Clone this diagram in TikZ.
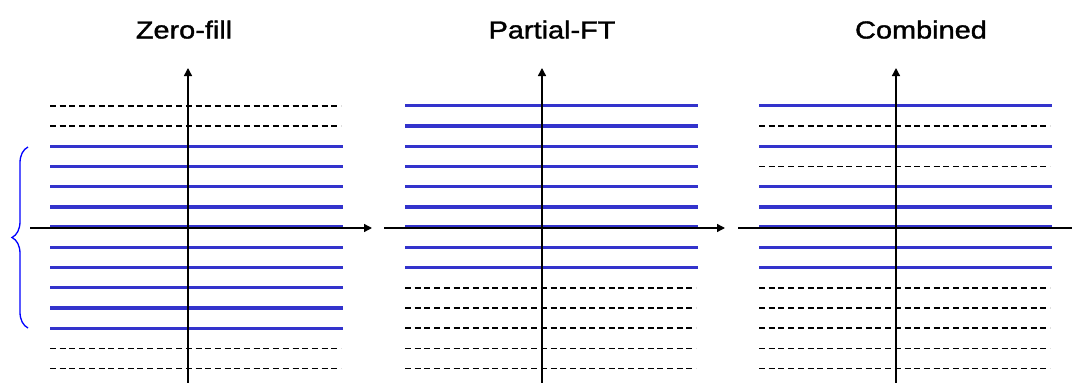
\documentclass[tikz,border=0pt]{standalone}
\usepackage{fontspec}
\usepackage{graphicx}
\setmainfont{Liberation Sans}
\newfontfamily\titlefont[FakeBold=1.3]{Liberation Sans}
\usetikzlibrary{arrows.meta,decorations.pathreplacing}

\definecolor{kline}{RGB}{51,51,204}
\definecolor{bracecol}{RGB}{0,0,255}

\tikzset{
  sampled/.style={kline, line width=3.3pt},
  skipped/.style={black, line width=1.6pt, dash pattern=on 6pt off 3.7pt},
  axisline/.style={black, line width=1.4pt},
  axisarrow/.style={axisline, -{Triangle[length=8pt,width=8pt]}},
  paneltitle/.style={anchor=base, inner sep=0pt, font=\titlefont\fontsize{24.7}{28}\selectfont},
}

% widened title text
\newcommand{\widetitle}[1]{\scalebox{1.17}[1]{#1}}
% k-space rows: left end, right end, acquired rows, skipped rows
\newcommand{\kspacerows}[4]{%
  \foreach \i in {#3}{\draw[sampled] (#1,{105.7+20.23*\i}) -- (#2,{105.7+20.23*\i});}
  \foreach \i in {#4}{\draw[skipped] (#1,{105.7+20.23*\i}) -- ({#2-2},{105.7+20.23*\i});}
}

\begin{document}
\begin{tikzpicture}[x=1pt,y=-1pt]
\fill[white] (0,0) rectangle (1072,383);
\useasboundingbox (0,0) rectangle (1072,383);

% titles
\node[paneltitle] (t1) at (184,38.5) {\widetitle{Zero-fill}};
\node[paneltitle] (t2) at (552,38.5) {\widetitle{Partial-FT}};
\node[paneltitle] (t3) at (921,38.5) {\widetitle{Combined}};

% rows of each panel
\kspacerows{50}{343}{2,...,11}{0,1,12,13}
\kspacerows{405}{698}{0,...,8}{9,...,13}
\kspacerows{759}{1052}{0,2,4,5,6,7,8}{1,3,9,10,11,12,13}

% axis end points
\coordinate (h1a) at (30,228);  \coordinate (h1b) at (372,228);
\coordinate (h2a) at (384,228); \coordinate (h2b) at (725,228);
\coordinate (h3a) at (738,228); \coordinate (h3b) at (1072,228);
\coordinate (v1a) at (188,383); \coordinate (v1b) at (188,68);
\coordinate (v2a) at (542,383); \coordinate (v2b) at (542,68);
\coordinate (v3a) at (896,383); \coordinate (v3b) at (896,68);

% axes
\draw[axisarrow] (h1a) -- (h1b);
\draw[axisarrow] (h2a) -- (h2b);
\draw[axisline]  (h3a) -- (h3b);
\draw[axisarrow] (v1a) -- (v1b);
\draw[axisarrow] (v2a) -- (v2b);
\draw[axisarrow] (v3a) -- (v3b);

% brace over the acquired rows
\coordinate (br1) at (28,328);
\coordinate (br2) at (28,147);
\draw[bracecol, line width=1.3pt, decorate, decoration={brace, amplitude=16pt}] (br1) -- (br2);
\end{tikzpicture}
\end{document}
